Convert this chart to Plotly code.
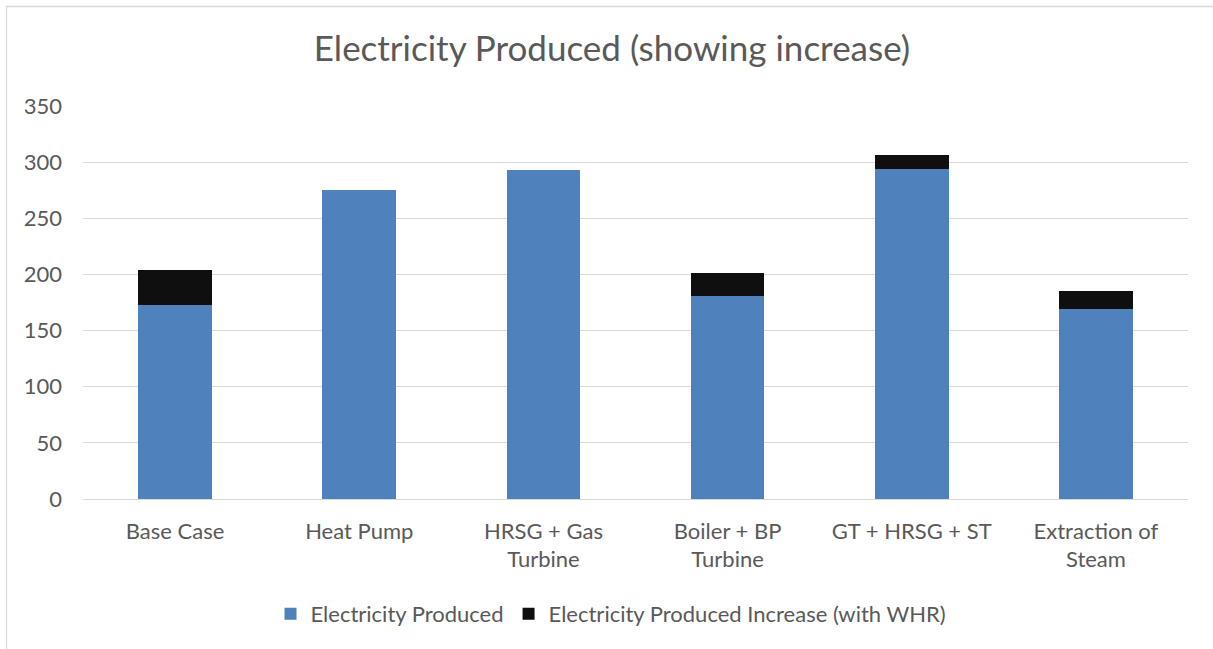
import plotly.graph_objects as go

categories = ["Base Case", "Heat Pump", "HRSG + Gas<br>Turbine", "Boiler + BP<br>Turbine",
              "GT + HRSG + ST", "Extraction of<br>Steam"]
produced = [173, 275, 293, 181, 294, 169]
increase = [31, 0, 0, 20, 12.5, 16.5]
y_ticks = [0, 50, 100, 150, 200, 250, 300, 350]

W, H = 1213, 649
L, R, T, B = 83, 1188, 106, 499
FONT = "Lato"
TXT = "#595959"
GRID = "#D9D9D9"

fig = go.Figure()
fig.add_bar(x=categories, y=produced, name="Electricity Produced",
            marker=dict(color="#4F81BD", line=dict(width=0)))
fig.add_bar(x=categories, y=increase, name="Electricity Produced Increase (with WHR)",
            marker=dict(color="#0F0F0F", line=dict(width=0)))

pw, ph = R - L, B - T
fig.add_shape(type="rect", xref="paper", yref="paper",
              x0=(6.5 - L) / pw, x1=1.3, y0=-0.8, y1=(B - 6.5) / ph,
              line=dict(color=GRID, width=1.3), fillcolor="rgba(0,0,0,0)", layer="below")

fig.update_layout(
    width=W, height=H,
    margin=dict(l=L, r=W - R, t=T, b=H - B, autoexpand=False),
    barmode="stack", bargap=0.6,
    paper_bgcolor="white", plot_bgcolor="white",
    font=dict(family=FONT, color=TXT, size=22),
    title=dict(text="Electricity Produced (showing increase)", x=612 / W, xanchor="center",
               y=1 - 49 / H, yanchor="middle", yref="container",
               font=dict(family=FONT, size=35, color=TXT)),
    legend=dict(orientation="h", xref="container", yref="container",
                x=611 / W, xanchor="center", y=1 - 614 / H, yanchor="middle",
                font=dict(family=FONT, size=22, color=TXT), traceorder="normal",
                itemclick=False),
    xaxis=dict(showgrid=False, showline=True, linecolor=GRID, linewidth=1.3,
               ticks="", tickfont=dict(family=FONT, size=22, color=TXT), ticklabelstandoff=12),
    yaxis=dict(range=[0, 350], tickvals=y_ticks, showgrid=True, gridcolor=GRID, gridwidth=1.3,
               zeroline=False, showline=False, ticks="",
               tickfont=dict(family=FONT, size=22, color=TXT), ticklabelstandoff=20),
)

fig.write_html("out.html")
